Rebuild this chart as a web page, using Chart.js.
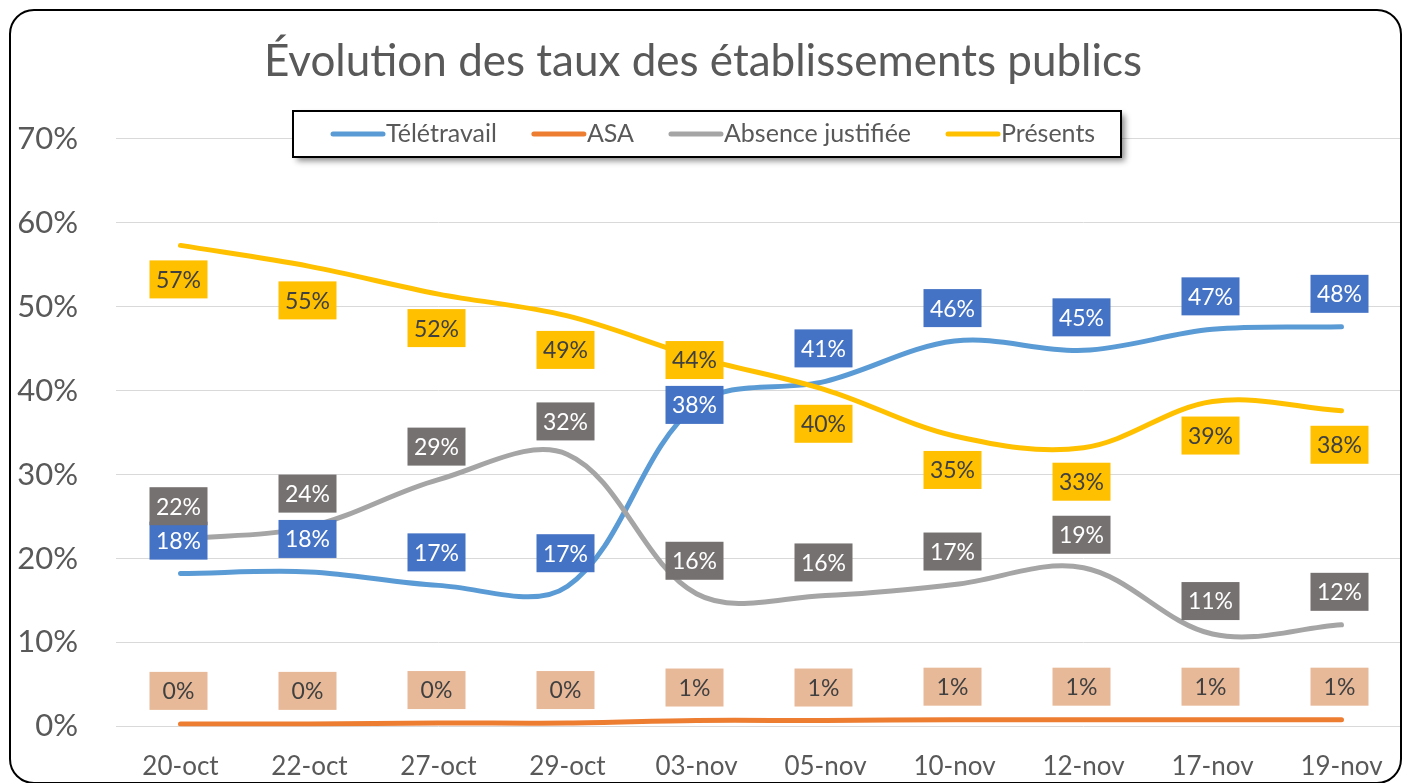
<!DOCTYPE html>
<html>
<head>
<meta charset="utf-8">
<script src="https://cdn.jsdelivr.net/npm/chart.js@4"></script>
<style>
  html, body { margin: 0; padding: 0; background: #fff; overflow: hidden; }
  #wrap { width: 1410px; height: 783px; }
</style>
</head>
<body>
<div id="wrap"><canvas id="tauxChart" width="1410" height="783"></canvas></div>
<script>
const dates = ['20-oct', '22-oct', '27-oct', '29-oct', '03-nov', '05-nov', '10-nov', '12-nov', '17-nov', '19-nov'];
const teletravail = [18.2, 18.4, 16.8, 16.7, 38.3, 41.1, 45.9, 44.8, 47.3, 47.6];
const asa = [0.3, 0.3, 0.4, 0.4, 0.7, 0.7, 0.8, 0.8, 0.8, 0.8];
const absence = [22.3, 23.8, 29.4, 32.4, 15.8, 15.6, 16.9, 18.9, 11.0, 12.1];
const presents = [57.3, 54.8, 51.5, 48.9, 44.0, 40.1, 34.6, 33.2, 38.7, 37.6];
const yMax = 70;
const yStep = 10;

const FONT = "Lato, 'Open Sans', sans-serif";
const TEXT = '#595959';

// value boxes drawn over the lines (Excel-style data labels)
const pointLabels = {
  id: 'pointLabels',
  afterDatasetsDraw(chart) {
    const ctx = chart.ctx;
    ctx.save();
    ctx.font = '23px ' + FONT;
    ctx.textAlign = 'center';
    ctx.textBaseline = 'middle';
    chart.data.datasets.forEach((ds, di) => {
      const meta = chart.getDatasetMeta(di);
      meta.data.forEach((pt, i) => {
        let dy = ds.labelSide === 'below' ? 34 : -33;
        if (ds.labelNudge && ds.labelNudge[i] !== undefined) dy = ds.labelNudge[i];
        const cx = pt.x - 2, cy = pt.y + dy;
        ctx.fillStyle = ds.labelBg;
        ctx.fillRect(cx - 29, cy - 19, 58, 38);
        ctx.fillStyle = ds.labelColor;
        ctx.fillText(Math.round(ds.data[i]) + '%', cx, cy + 1);
      });
    });
    ctx.restore();
  }
};

// legend box + rounded outer frame
const frameAndLegend = {
  id: 'frameAndLegend',
  afterDraw(chart) {
    const ctx = chart.ctx;
    ctx.save();
    // legend
    const box = { x: 293, y: 111, w: 828, h: 46 };
    ctx.shadowColor = 'rgba(0,0,0,0.45)';
    ctx.shadowBlur = 6;
    ctx.shadowOffsetX = 4;
    ctx.shadowOffsetY = 4;
    ctx.fillStyle = '#fff';
    ctx.fillRect(box.x, box.y, box.w, box.h);
    ctx.shadowColor = 'transparent';
    ctx.lineWidth = 2;
    ctx.strokeStyle = '#000';
    ctx.strokeRect(box.x, box.y, box.w, box.h);
    ctx.font = '25px ' + FONT;
    ctx.textBaseline = 'middle';
    ctx.textAlign = 'left';
    let x = 330;
    const cy = box.y + box.h / 2;
    chart.data.datasets.forEach(ds => {
      ctx.strokeStyle = ds.borderColor;
      ctx.lineWidth = 5;
      ctx.lineCap = 'round';
      ctx.beginPath();
      ctx.moveTo(x + 3, cy);
      ctx.lineTo(x + 53, cy);
      ctx.stroke();
      ctx.fillStyle = TEXT;
      ctx.fillText(ds.label, x + 56, cy);
      x += 56 + ctx.measureText(ds.label).width + 34;
    });
    // frame
    ctx.lineWidth = 2;
    ctx.strokeStyle = '#000';
    ctx.beginPath();
    ctx.roundRect(10, 10, 1391, 773, 24);
    ctx.stroke();
    ctx.restore();
  }
};

const line = (label, data, color, order, extra) => Object.assign({
  label, data, order,
  borderColor: color,
  backgroundColor: color,
  borderWidth: 5,
  borderCapStyle: 'round',
  pointRadius: 0,
  tension: 0.35,
  fill: false
}, extra);

new Chart(document.getElementById('tauxChart'), {
  type: 'line',
  data: {
    labels: dates,
    datasets: [
      line('Télétravail', teletravail, '#5B9BD5', 3, { labelBg: '#4472C4', labelColor: '#fff', labelSide: 'above', labelNudge: { 4: 0 } }),
      line('ASA', asa, '#ED7D31', 2, { labelBg: '#E8B998', labelColor: '#404040', labelSide: 'above' }),
      line('Absence justifiée', absence, '#A5A5A5', 1, { labelBg: '#767171', labelColor: '#fff', labelSide: 'above' }),
      line('Présents', presents, '#FFC000', 0, { labelBg: '#FFC000', labelColor: '#404040', labelSide: 'below', labelNudge: { 4: 3 } })
    ]
  },
  options: {
    responsive: false,
    animation: false,
    layout: { padding: { left: 0, right: 4, top: 0, bottom: 0 } },
    plugins: {
      legend: { display: false },
      tooltip: { enabled: false },
      title: {
        display: true,
        text: 'Évolution des taux des établissements publics',
        color: TEXT,
        font: { family: FONT, size: 44, weight: 'normal' },
        padding: { top: 35, bottom: 51 }
      }
    },
    scales: {
      x: {
        offset: true,
        grid: { display: false },
        border: { display: false },
        ticks: { color: TEXT, font: { family: FONT, size: 26 }, padding: 17, maxRotation: 0 },
        afterFit: s => { s.height = 56; }
      },
      y: {
        min: 0,
        max: yMax,
        grid: { color: '#D9D9D9', lineWidth: 1, drawTicks: false },
        border: { display: false },
        ticks: { stepSize: yStep, color: TEXT, font: { family: FONT, size: 31 }, padding: 38, callback: v => v + '%' },
        afterFit: s => { s.width = 116; }
      }
    }
  },
  plugins: [pointLabels, frameAndLegend]
});
</script>
</body>
</html>
